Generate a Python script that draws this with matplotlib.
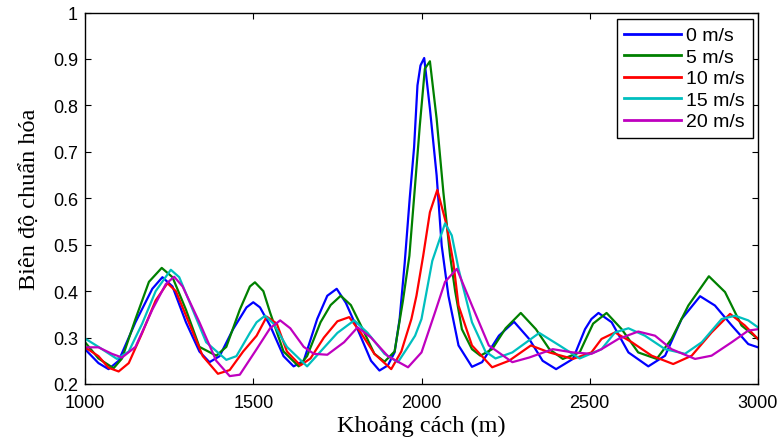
import matplotlib
matplotlib.use("Agg")
import matplotlib.pyplot as plt

# ---- data ----
x_0 = [1000, 1040, 1070, 1100, 1150, 1200, 1230, 1260, 1300, 1340, 1370, 1400, 1440, 1480, 1500,
       1520, 1550, 1590, 1620, 1650, 1690, 1720, 1748, 1775, 1810, 1850, 1875, 1900, 1920, 1935,
       1950, 1965, 1978, 1988, 1997, 2008, 2025, 2045, 2060, 2080, 2110, 2150, 2180, 2230, 2275,
       2320, 2360, 2400, 2450, 2486, 2505, 2526, 2565, 2615, 2674, 2724, 2773, 2828, 2872, 2922,
       2971, 3000]
y_0 = [0.275, 0.245, 0.232, 0.250, 0.333, 0.405, 0.430, 0.410, 0.333, 0.270, 0.247, 0.260, 0.318, 0.365, 0.376,
       0.365, 0.326, 0.260, 0.238, 0.250, 0.340, 0.390, 0.405, 0.375, 0.318, 0.250, 0.229, 0.240, 0.268, 0.340,
       0.460, 0.600, 0.710, 0.843, 0.886, 0.902, 0.793, 0.649, 0.498, 0.390, 0.283, 0.237, 0.247, 0.304, 0.334,
       0.297, 0.250, 0.232, 0.254, 0.318, 0.340, 0.353, 0.333, 0.268, 0.238, 0.261, 0.340, 0.389, 0.369, 0.326,
       0.286, 0.279]

x_5 = [1000, 1040, 1085, 1110, 1150, 1190, 1228, 1260, 1300, 1340, 1390, 1420, 1460, 1490, 1505,
       1530, 1550, 1590, 1635, 1660, 1700, 1730, 1760, 1790, 1820, 1860, 1890, 1920, 1945, 1964,
       1980, 1995, 2010, 2025, 2045, 2065, 2085, 2100, 2120, 2150, 2175, 2210, 2250, 2295, 2340,
       2380, 2420, 2470, 2486, 2510, 2550, 2595, 2644, 2699, 2743, 2793, 2854, 2902, 2951, 3000]
y_5 = [0.290, 0.255, 0.234, 0.255, 0.340, 0.420, 0.450, 0.430, 0.360, 0.280, 0.261, 0.280, 0.360, 0.410, 0.419,
       0.400, 0.354, 0.270, 0.238, 0.260, 0.333, 0.370, 0.390, 0.370, 0.326, 0.265, 0.248, 0.270, 0.380, 0.476,
       0.620, 0.757, 0.879, 0.895, 0.771, 0.613, 0.476, 0.400, 0.318, 0.275, 0.261, 0.275, 0.320, 0.353, 0.318,
       0.275, 0.254, 0.268, 0.293, 0.330, 0.353, 0.318, 0.268, 0.254, 0.297, 0.369, 0.432, 0.398, 0.326, 0.297]

x_10 = [1000, 1040, 1070, 1100, 1130, 1170, 1210, 1245, 1270, 1310, 1350, 1395, 1430, 1470, 1510,
        1540, 1570, 1600, 1640, 1670, 1710, 1750, 1785, 1820, 1860, 1910, 1940, 1970, 1985, 2005,
        2025, 2047, 2075, 2095, 2110, 2150, 2210, 2260, 2325, 2380, 2450, 2505, 2535, 2575, 2625,
        2684, 2748, 2803, 2862, 2917, 2961, 3000]
y_10 = [0.279, 0.260, 0.235, 0.227, 0.245, 0.310, 0.380, 0.417, 0.400, 0.330, 0.260, 0.222, 0.230, 0.270, 0.304,
        0.345, 0.330, 0.270, 0.240, 0.255, 0.300, 0.335, 0.344, 0.310, 0.265, 0.232, 0.270, 0.340, 0.390, 0.476,
        0.570, 0.618, 0.541, 0.460, 0.369, 0.283, 0.236, 0.250, 0.283, 0.268, 0.254, 0.268, 0.297, 0.311, 0.290,
        0.261, 0.243, 0.261, 0.311, 0.351, 0.326, 0.297]

x_15 = [1000, 1040, 1095, 1130, 1170, 1210, 1255, 1280, 1320, 1360, 1420, 1450, 1490, 1510, 1535,
        1560, 1600, 1660, 1700, 1750, 1800, 1840, 1890, 1930, 1960, 1981, 2000, 2032, 2070, 2090,
        2110, 2150, 2190, 2220, 2270, 2350, 2410, 2470, 2535, 2575, 2615, 2664, 2724, 2783, 2833,
        2892, 2932, 2971, 3000]
y_15 = [0.298, 0.280, 0.254, 0.270, 0.330, 0.400, 0.446, 0.430, 0.360, 0.290, 0.252, 0.260, 0.310, 0.333, 0.347,
        0.330, 0.280, 0.238, 0.270, 0.310, 0.337, 0.310, 0.265, 0.247, 0.280, 0.304, 0.340, 0.465, 0.546, 0.520,
        0.448, 0.333, 0.270, 0.255, 0.268, 0.310, 0.283, 0.255, 0.275, 0.311, 0.320, 0.304, 0.275, 0.265, 0.290,
        0.340, 0.347, 0.337, 0.322]

x_20 = [1000, 1040, 1080, 1110, 1150, 1200, 1240, 1265, 1290, 1340, 1390, 1430, 1460, 1510, 1550,
        1580, 1610, 1650, 1680, 1720, 1770, 1810, 1850, 1900, 1960, 2000, 2040, 2070, 2105, 2150,
        2200, 2270, 2320, 2390, 2450, 2505, 2535, 2585, 2644, 2694, 2743, 2813, 2862, 2922, 2971, 3000]
y_20 = [0.279, 0.279, 0.265, 0.257, 0.280, 0.360, 0.415, 0.431, 0.410, 0.333, 0.250, 0.217, 0.220, 0.275, 0.320,
        0.337, 0.320, 0.280, 0.265, 0.263, 0.290, 0.322, 0.300, 0.260, 0.236, 0.268, 0.354, 0.420, 0.448, 0.369,
        0.283, 0.247, 0.257, 0.275, 0.268, 0.265, 0.275, 0.297, 0.313, 0.304, 0.275, 0.254, 0.261, 0.290, 0.315, 0.318]

labels = ["0 m/s", "5 m/s", "10 m/s", "15 m/s", "20 m/s"]
xs = [x_0, x_5, x_10, x_15, x_20]
ys = [y_0, y_5, y_10, y_15, y_20]
colors = [(0, 0, 1), (0, 0.5, 0), (1, 0, 0), (0, 0.75, 0.75), (0.75, 0, 0.75)]

x_ticks = [1000, 1500, 2000, 2500, 3000]
y_ticks = [0.2, 0.3, 0.4, 0.5, 0.6, 0.7, 0.8, 0.9, 1.0]
y_tick_labels = ["0.2", "0.3", "0.4", "0.5", "0.6", "0.7", "0.8", "0.9", "1"]

# ---- figure ----
fig = plt.figure(figsize=(7.81, 4.39), dpi=100)
ax = fig.add_axes([85 / 781, 1 - 385 / 439, (758 - 85) / 781, (385 - 13.5) / 439])

for x, y, c, lab in zip(xs, ys, colors, labels):
    ax.plot(x, y, color=c, lw=1.6, label=lab)

ax.set_xlim(1000, 3000)
ax.set_ylim(0.2, 1.0)
ax.set_xticks(x_ticks)
ax.set_xticklabels([str(t) for t in x_ticks], family="Liberation Sans", fontsize=13)
ax.set_yticks(y_ticks)
ax.set_yticklabels(y_tick_labels, family="Liberation Sans", fontsize=13)
ax.tick_params(direction="in", top=True, right=True, length=4, width=0.8)
ax.tick_params(axis="x", pad=7)
ax.tick_params(axis="y", pad=5)
for s in ax.spines.values():
    s.set_linewidth(1.0)

ax.set_xlabel("Khoảng cách (m)", family="Liberation Serif", fontsize=17.5, labelpad=3)
ax.set_ylabel("Biên độ chuẩn hóa", family="Liberation Serif", fontsize=17.5, labelpad=9)

leg = ax.legend(loc="upper right", bbox_to_anchor=(0.992, 0.9825), borderaxespad=0,
                prop={"family": "Liberation Sans", "size": 14}, handlelength=2.9,
                handletextpad=0.28, labelspacing=0.2, borderpad=0.4, fancybox=False,
                framealpha=1, edgecolor="black")
leg.get_frame().set_linewidth(1.0)
for h in leg.get_lines():
    h.set_linewidth(2.0)

fig.savefig("out.png", dpi=100)
